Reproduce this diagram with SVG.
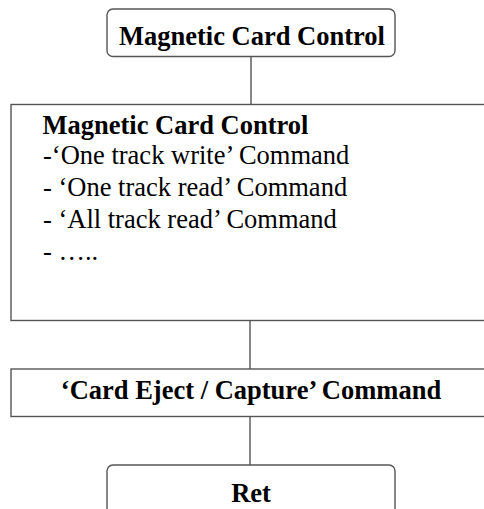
<svg xmlns="http://www.w3.org/2000/svg" width="484" height="509" viewBox="0 0 484 509">
<style>
.box{fill:#fff;stroke:#555;stroke-width:1.4}
.conn{stroke:#555;stroke-width:1.4;fill:none}
text{font-family:"Liberation Serif","Times New Roman",serif;font-size:26.5px;fill:#000}
.b{font-weight:bold}
.c{text-anchor:middle}
</style>
<rect width="484" height="509" fill="#fff"/>
<g id="connectors">
<line class="conn" x1="251" y1="56.5" x2="251" y2="104.5"/>
<line class="conn" x1="250" y1="320.5" x2="250" y2="369"/>
<line class="conn" x1="250" y1="416.5" x2="250" y2="465"/>
</g>
<g id="node-top">
<rect class="box" x="107" y="9" width="288" height="47.5" rx="6"/>
<text class="b c" x="252" y="45">Magnetic Card Control</text>
</g>
<g id="node-mcc">
<rect class="box" x="11" y="104.5" width="490" height="216"/>
<text class="b" x="42.5" y="134">Magnetic Card Control</text>
<text x="43" y="164">-‘One track write’ Command</text>
<text x="43" y="196">- ‘One track read’ Command</text>
<text x="43" y="228">- ‘All track read’ Command</text>
<text x="43" y="260">- …..</text>
</g>
<g id="node-eject">
<rect class="box" x="11" y="369" width="490" height="47.5"/>
<text class="b c" x="251" y="399">‘Card Eject / Capture’ Command</text>
</g>
<g id="node-ret">
<rect class="box" x="107" y="465" width="288" height="60" rx="6"/>
<text class="b c" x="251" y="502">Ret</text>
</g>
</svg>
